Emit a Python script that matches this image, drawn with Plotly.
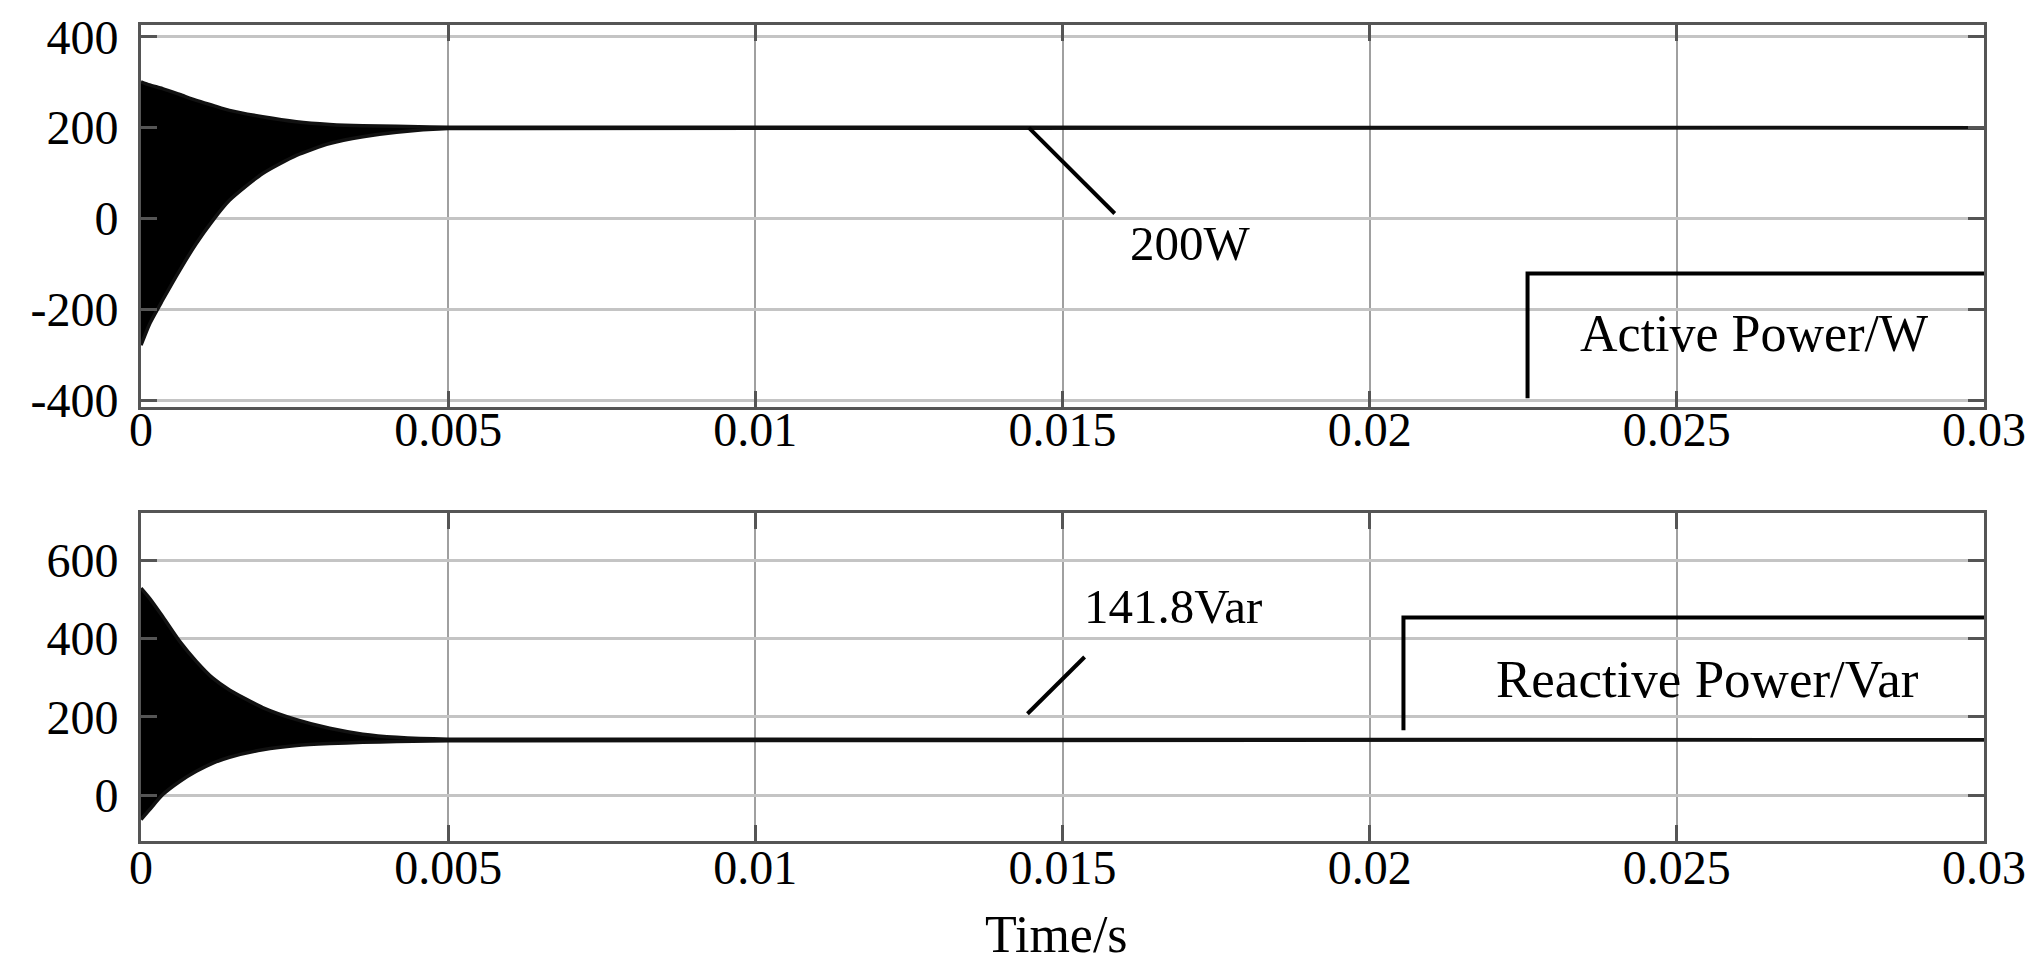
import plotly.graph_objects as go

# time points (s) at which the envelope of the fast oscillation was read
t = [0, 0.00014, 0.00035, 0.00063, 0.0009, 0.00117, 0.00144, 0.00198,
     0.00253, 0.00307, 0.00361, 0.00416, 0.005, 0.03]

# active power envelope (W), settles at 200
p_upper = [301, 294, 286, 273, 260, 249, 238, 224, 213, 207, 204, 203, 201, 200]
p_lower = [-279, -232, -180, -114, -55, -4, 40, 99, 139, 165, 180, 190, 198, 200]

# reactive power envelope (Var), settles at 141.8
q_upper = [529, 503, 457, 393, 342, 299, 269, 224, 193, 171, 156, 148, 143, 141.8]
q_lower = [-62, -37, 1, 35, 61, 82, 97, 116, 127, 132, 135, 137, 139, 141.8]

x_ticks = [0, 0.005, 0.01, 0.015, 0.02, 0.025, 0.03]
x_labels = ['0', '0.005', '0.01', '0.015', '0.02', '0.025', '0.03']
p_ticks = [-400, -200, 0, 200, 400]
p_labels = ['-400', '-200', '0', '200', '400']
q_ticks = [0, 200, 400, 600]
q_labels = ['0', '200', '400', '600']

PAGE_W, PAGE_H = 2033, 971
O = 8  # default body margin of the html page
W, H = PAGE_W - 2 * O, PAGE_H - 2 * O
# plot box in page pixels
L, R, T, B = 141, 1984, 25, 841


def py(y):
    # page pixel row -> paper fraction
    return (B - y) / (B - T)


def px(x):
    return (x - L) / (R - L)


FONT = 'Liberation Serif'
fig = go.Figure()

for xa, ya, up, lo in [('x', 'y', p_upper, p_lower), ('x2', 'y2', q_upper, q_lower)]:
    fig.add_trace(go.Scatter(x=t, y=up, xaxis=xa, yaxis=ya, mode='lines',
                             line=dict(color='#111', width=3.5, shape='spline', smoothing=0.6),
                             hoverinfo='skip', showlegend=False))
    fig.add_trace(go.Scatter(x=t, y=lo, xaxis=xa, yaxis=ya, mode='lines', fill='tonexty',
                             fillcolor='black',
                             line=dict(color='#111', width=3.5, shape='spline', smoothing=0.6),
                             hoverinfo='skip', showlegend=False))

xstyle = dict(range=[0, 0.03], tickvals=x_ticks, ticktext=x_labels, automargin=False,
              showgrid=True, gridcolor='#a0a0a0', gridwidth=2,
              showline=True, linecolor='#555', linewidth=3, mirror='ticks',
              ticks='inside', ticklen=16, tickwidth=3, tickcolor='#555',
              zeroline=False, ticklabeloverflow='allow',
              tickfont=dict(family=FONT, size=48, color='black'))
ystyle = dict(showgrid=True, gridcolor='#c4c4c4', gridwidth=3, automargin=False,
              showline=True, linecolor='#555', linewidth=3, mirror='ticks',
              ticks='inside', ticklen=16, tickwidth=3, tickcolor='#555',
              zeroline=False, ticklabelstandoff=10,
              tickfont=dict(family=FONT, size=48, color='black'))

fig.update_layout(
    width=W, height=H, plot_bgcolor='white', paper_bgcolor='white',
    margin=dict(l=L - O, r=PAGE_W - O - R, t=T - O, b=PAGE_H - O - B),
    xaxis=dict(xstyle, anchor='y', ticklabelstandoff=-22),
    yaxis=dict(ystyle, domain=[py(407), 1], range=[-415, 426],
               tickvals=p_ticks, ticktext=p_labels),
    xaxis2=dict(xstyle, anchor='y2', ticklabelstandoff=-18),
    yaxis2=dict(ystyle, domain=[0, py(513)], range=[-117, 721],
                tickvals=q_ticks, ticktext=q_labels),
)

bl = dict(color='black', width=4)
fig.add_shape(type='line', xref='x', yref='y', x0=0.01445, y0=200, x1=0.01585, y1=11, line=bl)
fig.add_shape(type='path', xref='x', yref='y', path='M 0.02257,-396 L 0.02257,-121 L 0.03,-121', line=bl)
fig.add_shape(type='line', xref='x2', yref='y2', x0=0.01443, y0=208, x1=0.01536, y1=353, line=bl)
fig.add_shape(type='path', xref='x2', yref='y2', path='M 0.02055,166 L 0.02055,454 L 0.03,454', line=bl)

txt = dict(family=FONT, size=52, color='black')
fig.add_annotation(x=0.01708, y=-55, xref='x', yref='y', text='200W', showarrow=False,
                   font=dict(txt, size=49))
fig.add_annotation(x=0.02625, y=-254, xref='x', yref='y', text='Active Power/W', showarrow=False, font=txt)
fig.add_annotation(x=0.0168, y=482, xref='x2', yref='y2', text='141.8Var', showarrow=False,
                   font=dict(txt, size=49))
fig.add_annotation(x=0.0255, y=297, xref='x2', yref='y2', text='Reactive Power/Var', showarrow=False,
                   font=dict(txt, size=53))
fig.add_annotation(x=px(1056), y=py(934), xref='paper', yref='paper', text='Time/s',
                   showarrow=False, font=txt, yanchor='middle')

fig.write_html("out.html")
